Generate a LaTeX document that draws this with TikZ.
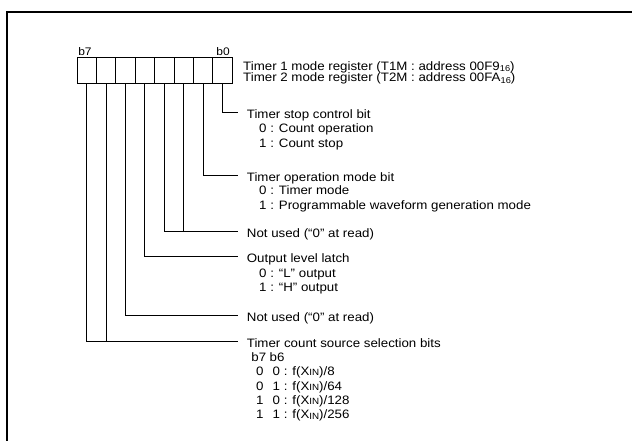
\documentclass[tikz,border=0pt]{standalone}
\usepackage{fontspec}
\setmainfont[FakeStretch=1.09]{Liberation Sans}
\newcommand{\subsz}[1]{{\fontsize{8.5}{9}\selectfont\raisebox{-1.8pt}{#1}}}
\newcommand{\xinsz}{X{\fontsize{9}{9}\selectfont\raisebox{-0.4pt}{IN}}}
\begin{document}
\begin{tikzpicture}[x=1pt,y=-1pt,
  font=\fontsize{12.2}{13}\selectfont,
  cell/.style={draw,line width=0.8pt,minimum width=19.36pt,minimum height=26.4pt,inner sep=0pt},
  conn/.style={line width=0.8pt},
  title/.style={anchor=west,inner xsep=8.4pt,inner ysep=0pt,text height=0.72em,text depth=0pt},
  txt/.style={anchor=west,inner sep=0pt,text height=0.72em,text depth=0pt},
  small/.style={txt,anchor=center,font=\fontsize{11}{12}\selectfont}]
\useasboundingbox (0,0) rectangle (632,441);
\draw[line width=2.2pt] (7,441) -- (7,12) -- (632,12);
% register cells
\foreach \i in {0,...,7}
  \node[cell] (c\i) at ({232-19.36*(\i+0.5)},70.2) {};
\node[small] (lb7) at (85,51.5) {b7};
\node[small] (lb0) at (223,51.5) {b0};
\node[txt] (reg1) at (243,66.5) {Timer 1 mode register (T1M : address 00F9\subsz{16})};
\node[txt] (reg2) at (243,78) {Timer 2 mode register (T2M : address 00FA\subsz{16})};
% b0
\node[title] (t0) at (238.3,115) {Timer stop control bit};
\node[txt] (t0a) at (259,129.3) {0 : Count operation};
\node[txt] (t0b) at (259,144) {1 : Count stop};
% b1
\node[title] (t1) at (238.3,177.7) {Timer operation mode bit};
\node[txt] (t1a) at (259,191) {0 : Timer mode};
\node[txt] (t1b) at (259,206) {1 : Programmable waveform generation mode};
% b2 b3
\node[title] (t2) at (238.3,234.2) {Not used (“0” at read)};
% b4
\node[title] (t4) at (238.3,259.2) {Output level latch};
\node[txt] (t4a) at (259,273.5) {0 : “L” output};
\node[txt] (t4b) at (259,288.3) {1 : “H” output};
% b5
\node[title] (t5) at (238.3,317.5) {Not used (“0” at read)};
% b6 b7
\node[title] (t6) at (238.3,344.2) {Timer count source selection bits};
\node[txt] (h7) at (251.2,358.2) {b7};
\node[txt] (h6) at (269.5,358.2) {b6};
\node[txt] (r1a) at (256,371.9) {0};
\node[txt] (r1b) at (272.5,371.9) {0 : f(\xinsz)/8};
\node[txt] (r2a) at (256,386.6) {0};
\node[txt] (r2b) at (272.5,386.6) {1 : f(\xinsz)/64};
\node[txt] (r3a) at (256,400.9) {1};
\node[txt] (r3b) at (272.5,400.9) {0 : f(\xinsz)/128};
\node[txt] (r4a) at (256,415.3) {1};
\node[txt] (r4b) at (272.5,415.3) {1 : f(\xinsz)/256};
% connector ends
\foreach \t in {t0,t1,t2,t4,t5,t6}
  \coordinate (k\t) at ([yshift=2.6pt]\t.west);
% connectors
\draw[conn] (c0.south) |- (kt0);
\draw[conn] (c1.south) |- (kt1);
\draw[conn] (c3.south) |- (kt2);
\draw[conn] (c2.south) -- (c2.south |- kt2);
\draw[conn] (c4.south) |- (kt4);
\draw[conn] (c5.south) |- (kt5);
\draw[conn] (c7.south) |- (kt6);
\draw[conn] (c6.south) -- (c6.south |- kt6);
\end{tikzpicture}
\end{document}
